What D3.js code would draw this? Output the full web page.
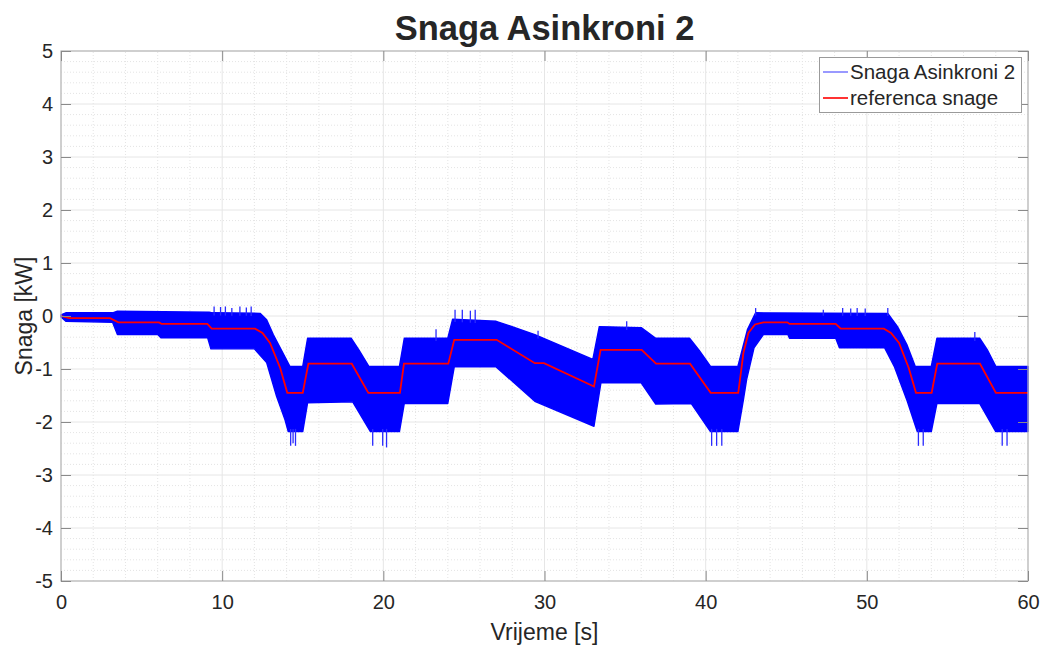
<!DOCTYPE html>
<html>
<head>
<meta charset="utf-8">
<title>Snaga Asinkroni 2</title>
<script src="https://d3js.org/d3.v7.min.js"></script>
<style>
  body { margin: 0; background: #fff; }
  text { font-family: "Liberation Sans", Arial, sans-serif; fill: #262626; }
</style>
</head>
<body>
<script>
// reference (red) breakpoints
var refT = [0, 0.5, 3.04, 3.56, 6.08, 6.25, 9.08, 9.35, 12.04, 12.5, 12.97, 13.6, 14.04, 15.0, 15.35,
  18.04, 19.07, 21.03, 21.28, 24.03, 24.4, 27.03, 29.4, 29.97, 33.07, 33.48, 36.03, 36.92,
  39.03, 40.31, 42.02, 42.13, 42.34, 42.65, 43.06, 43.58, 45.07, 45.2, 48.07, 48.38,
  51.06, 51.5, 52.0, 52.6, 53.05, 54.02, 54.37, 57.02, 58.01, 60];
var refV = [0, -0.04, -0.04, -0.12, -0.12, -0.15, -0.15, -0.24, -0.24, -0.32, -0.51, -0.98, -1.45, -1.45, -0.9,
  -0.9, -1.45, -1.45, -0.9, -0.9, -0.45, -0.45, -0.89, -0.89, -1.33, -0.64, -0.64, -0.9,
  -0.9, -1.45, -1.45, -1.2, -0.7, -0.32, -0.16, -0.12, -0.12, -0.15, -0.15, -0.24,
  -0.24, -0.32, -0.51, -0.98, -1.45, -1.45, -0.9, -0.9, -1.45, -1.45];

// measured power (blue) envelope, upper edge
var hiT = [0, 0.3, 3.2, 3.5, 9.2, 9.4, 12.35, 12.76, 13.17, 13.6, 14.2, 15.0, 15.3, 18.0, 18.5, 19.1,
  21.0, 21.3, 24.0, 24.3, 27.0, 29.4, 33.0, 33.4, 36.0, 36.9, 39.0, 39.6, 40.3, 42.0, 42.3, 42.6, 43.1,
  51.3, 51.9, 52.5, 53.0, 54.0, 54.35, 57.0, 57.5, 58.0, 60];
var hiV = [0.02, 0.06, 0.06, 0.09, 0.07, 0.06, 0.05, -0.07, -0.35, -0.6, -0.95, -0.95, -0.42, -0.42, -0.65, -0.95,
  -0.95, -0.42, -0.42, -0.06, -0.1, -0.35, -0.82, -0.2, -0.22, -0.42, -0.42, -0.65, -0.95, -0.95, -0.6, -0.25, 0.06,
  0.05, -0.2, -0.55, -0.95, -0.95, -0.42, -0.42, -0.65, -0.95, -0.95];

// measured power (blue) envelope, lower edge
var loT = [0, 0.3, 3.2, 3.5, 6.0, 6.2, 9.1, 9.3, 12.0, 12.76, 13.38, 13.9, 14.1, 15.0, 15.3, 18.1, 19.2,
  21.0, 21.3, 24.0, 24.4, 27.0, 29.4, 33.07, 33.5, 36.0, 36.9, 39.1, 40.3, 42.0, 42.33, 42.54, 43.0, 43.58,
  45.1, 45.2, 48.07, 48.3, 51.1, 51.7, 52.5, 53.13, 54.0, 54.35, 57.0, 58.0, 60];
var loV = [-0.02, -0.1, -0.12, -0.35, -0.35, -0.41, -0.41, -0.62, -0.62, -0.88, -1.52, -1.96, -2.18, -2.18, -1.64, -1.62, -2.18,
  -2.18, -1.65, -1.65, -0.96, -0.96, -1.61, -2.08, -1.26, -1.26, -1.66, -1.65, -2.18, -2.18, -1.6, -1.2, -0.6, -0.35,
  -0.35, -0.42, -0.42, -0.6, -0.6, -0.95, -1.6, -2.18, -2.18, -1.65, -1.65, -2.18, -2.18];

// isolated spikes of the measured signal
var spikeT = [9.5, 9.9, 10.2, 10.6, 11.1, 11.5, 11.8, 14.25, 14.4, 14.55, 19.34, 19.96, 20.2, 23.27,
  24.45, 24.9, 25.4, 25.7, 29.6, 35.1, 40.37, 40.68, 41.0, 43.1, 47.3, 48.5, 49.0, 49.4, 49.9, 51.3,
  53.2, 53.5, 56.7, 58.4, 58.7];
var spikeV = [0.18, 0.17, 0.18, 0.15, 0.18, 0.16, 0.18, -2.45, -2.4, -2.45, -2.45, -2.45, -2.48, -0.25,
  0.12, 0.12, 0.1, 0.12, -0.28, -0.1, -2.45, -2.45, -2.45, 0.15, 0.12, 0.15, 0.14, 0.15, 0.14, 0.15,
  -2.45, -2.45, -0.3, -2.45, -2.45];

var xTicks = d3.range(0, 61, 10);
var yTicks = d3.range(-5, 6, 1);
var xMinor = d3.range(0, 61, 2);
var yMinor = d3.range(-50, 51, 2).map(function(d) { return d / 10; });

var W = 1045, H = 646;
var margin = {top: 51, right: 17, bottom: 65, left: 61};

var svg = d3.select("body").append("svg")
    .attr("width", W)
    .attr("height", H);

var x = d3.scaleLinear().domain([0, 60]).range([margin.left, W - margin.right]);
var y = d3.scaleLinear().domain([-5, 5]).range([H - margin.bottom, margin.top]);

// envelope lookups (piecewise linear through the read-off points)
var hiAt = d3.scaleLinear().domain(hiT).range(hiV);
var loAt = d3.scaleLinear().domain(loT).range(loV);

// grid
var grid = svg.append("g");
grid.selectAll(".mx").data(xMinor.filter(function(d) { return d % 10 !== 0; })).enter().append("line")
    .attr("x1", function(d) { return x(d); }).attr("x2", function(d) { return x(d); })
    .attr("y1", y(-5)).attr("y2", y(5))
    .attr("stroke", "#e4e4e4").attr("stroke-dasharray", "1,2");
grid.selectAll(".my").data(yMinor.filter(function(d) { return Math.abs(d - Math.round(d)) > 0.01; })).enter().append("line")
    .attr("x1", x(0)).attr("x2", x(60))
    .attr("y1", function(d) { return y(d); }).attr("y2", function(d) { return y(d); })
    .attr("stroke", "#e4e4e4").attr("stroke-dasharray", "1,2");
grid.selectAll(".gx").data(xTicks).enter().append("line")
    .attr("x1", function(d) { return x(d); }).attr("x2", function(d) { return x(d); })
    .attr("y1", y(-5)).attr("y2", y(5))
    .attr("stroke", "#e6e6e6");
grid.selectAll(".gy").data(yTicks).enter().append("line")
    .attr("x1", x(0)).attr("x2", x(60))
    .attr("y1", function(d) { return y(d); }).attr("y2", function(d) { return y(d); })
    .attr("stroke", "#e6e6e6");

// blue band
var pts = hiT.map(function(t, i) { return [t, hiV[i]]; })
    .concat(loT.map(function(t, i) { return [t, loV[i]]; }).reverse());
var bandLine = d3.line().x(function(d) { return x(d[0]); }).y(function(d) { return y(d[1]); });
svg.append("path")
    .attr("d", bandLine(pts) + "Z")
    .attr("fill", "#0000ff")
    .attr("stroke", "#0000ff")
    .attr("stroke-width", 1.4)
    .attr("stroke-linejoin", "round");

svg.append("g").selectAll("line").data(spikeT).enter().append("line")
    .attr("x1", function(d) { return x(d); }).attr("x2", function(d) { return x(d); })
    .attr("y1", function(d, i) { return spikeV[i] > hiAt(d) ? y(hiAt(d) - 0.05) : y(loAt(d) + 0.05); })
    .attr("y2", function(d, i) { return y(spikeV[i]); })
    .attr("stroke", "#2a2aff").attr("stroke-width", 1.3);

// red reference
var refLine = d3.line().x(function(d) { return x(d); }).y(function(d, i) { return y(refV[i]); });
svg.append("path")
    .attr("d", refLine(refT))
    .attr("fill", "none")
    .attr("stroke", "#ff0000")
    .attr("stroke-width", 1.8);

// axes box
svg.append("rect")
    .attr("x", x(0)).attr("y", y(5))
    .attr("width", x(60) - x(0)).attr("height", y(-5) - y(5))
    .attr("fill", "none").attr("stroke", "#b8b8b8").attr("stroke-width", 1.2);

var tl = 10;
var fmt = function(d) { return String(d); };
var axB = svg.append("g").attr("transform", "translate(0," + y(-5) + ")")
    .call(d3.axisBottom(x).tickValues(xTicks).tickSizeInner(-tl).tickSizeOuter(0).tickPadding(14).tickFormat(fmt));
var axT = svg.append("g").attr("transform", "translate(0," + y(5) + ")")
    .call(d3.axisTop(x).tickValues(xTicks).tickSizeInner(-tl).tickSizeOuter(0).tickFormat(""));
var axL = svg.append("g").attr("transform", "translate(" + x(0) + ",0)")
    .call(d3.axisLeft(y).tickValues(yTicks).tickSizeInner(-tl).tickSizeOuter(0).tickPadding(8).tickFormat(fmt));
var axR = svg.append("g").attr("transform", "translate(" + x(60) + ",0)")
    .call(d3.axisRight(y).tickValues(yTicks).tickSizeInner(-tl).tickSizeOuter(0).tickFormat(""));
[axB, axT, axL, axR].forEach(function(a) {
  a.select(".domain").remove();
  a.selectAll("line").attr("stroke", "#8a8a8a");
  a.selectAll("text").attr("font-size", 20).attr("fill", "#262626")
    .attr("font-family", "Liberation Sans, Arial, sans-serif");
});
axB.selectAll("text").attr("dy", "0.71em");

// labels
svg.append("text").attr("x", x(30)).attr("y", 40).attr("text-anchor", "middle")
    .attr("font-size", 34.5).attr("font-weight", "bold").attr("fill", "#000").text("Snaga Asinkroni 2");
svg.append("text").attr("x", x(30)).attr("y", 640).attr("text-anchor", "middle")
    .attr("font-size", 23).text("Vrijeme [s]");
svg.append("text").attr("transform", "translate(32," + y(0) + ") rotate(-90)").attr("text-anchor", "middle")
    .attr("font-size", 23).text("Snaga [kW]");

// legend
var lg = svg.append("g");
lg.append("rect").attr("x", 819.5).attr("y", 57.5).attr("width", 202).attr("height", 55)
    .attr("fill", "#fff").attr("stroke", "#9a9a9a").attr("stroke-width", 1);
var items = [{label: "Snaga Asinkroni 2", color: "#8080ff"}, {label: "referenca snage", color: "#ff0000"}];
items.forEach(function(it, i) {
  var yy = 72 + i * 26;
  lg.append("line").attr("x1", 823).attr("x2", 848).attr("y1", yy).attr("y2", yy)
    .attr("stroke", it.color).attr("stroke-width", 1.6);
  lg.append("text").attr("x", 850).attr("y", yy + 7).attr("font-size", 20.5).attr("fill", "#000").text(it.label);
});
</script>
</body>
</html>
